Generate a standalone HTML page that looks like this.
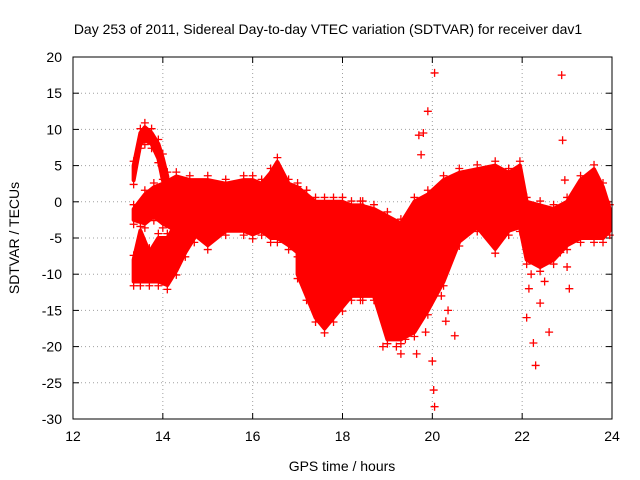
<!DOCTYPE html>
<html><head><meta charset="utf-8"><style>
body{margin:0;background:#fff;}
svg{display:block;font-family:"Liberation Sans",sans-serif;}
</style></head><body>
<svg id="chart" width="640" height="480">
<text x="328" y="34" text-anchor="middle" font-size="14">Day 253 of 2011, Sidereal Day-to-day VTEC variation (SDTVAR) for receiver dav1</text>
<text x="342" y="471" text-anchor="middle" font-size="14">GPS time / hours</text>
<text transform="translate(19,238) rotate(-90)" text-anchor="middle" font-size="14">SDTVAR / TECUs</text>
<g id="grid"></g><g id="ticks"></g><g id="marks"></g>
<rect x="73" y="57" width="539" height="362" fill="none" stroke="#000"/>
</svg>
<script>
const xTicks=[12,14,16,18,20,22,24];
const yTicks=[20,15,10,5,0,-5,-10,-15,-20,-25,-30];
const bandAT=[13.35,13.5,13.6,13.75,13.9,14.0,14.1];
const bandATop=[5,9.5,10.3,9.5,8,6,3.5];
const bandABot=[3,8,8.5,8,6,3,1];
const bandBT=[13.35,13.6,13.8,14.0,14.3,14.6,15.0,15.4,15.8,16.0,16.2,16.4,16.55,16.8,17.0,17.2];
const bandBTop=[-1,1,2,2.5,3.5,3,3,2.5,3,3,2.5,4,5.5,2.5,2,1];
const bandBBot=[-2.5,-3,-2,-3,-4,-4,-6,-4,-4,-4.5,-4,-5,-5,-6,-7,-8];
const bandCT=[13.35,13.5,13.7,13.9,14.1,14.3,14.5,14.7];
const bandCTop=[-8,-4,-7,-5,-5,-3,-3,-3];
const bandCBot=[-11,-11,-11,-11,-11.5,-9.5,-7,-5];
const bandDT=[17.0,17.2,17.4,17.6,17.8,18.0,18.2,18.45];
const bandDTop=[1.5,1,0,0,0,0,-0.5,-0.5];
const bandDBot=[-10,-13,-16,-17.5,-16,-14.5,-13,-13];
const bandET=[18.4,18.7,19.0,19.3,19.6,19.9,20.25,20.6,21.0,21.4,21.7,21.95,22.1,22.4,22.7,23.0,23.3,23.6,23.8,23.95];
const bandETop=[-0.5,-1,-2,-3,0,1,3,4,4.5,5,4,5,0,-0.5,-1,0,3,4.5,2,-1];
const bandEBot=[-13,-13,-19,-19,-18,-15,-11,-5.5,-3.5,-6.5,-4,-3.5,-8,-9,-8,-6,-5,-5,-5,-4];
const outlierT=[20.05,22.88,19.9,20.05,20.03,22.3,22.1,22.6,22.9,19.7,19.8,19.75,22.15,22.25,22.85,19.65,18.9,19.4,20.3,20.5,22.95,23.05,19.2,19.3,20.2,20.35,22.4,22.2,22.5,23.0,19.85,20.0];
const outlierV=[17.8,17.5,12.5,-28.3,-26,-22.6,-16,-18,8.5,9.2,9.5,6.5,-12,-19.5,-7,-21,-20,-19,-16.5,-18.5,3,-12,-20,-21,-13,-15,-14,-10,-11,-9,-18,-22];
const X=t=>73+(t-12)*539/12, Y=v=>57+(20-v)*362/50;
const ns="http://www.w3.org/2000/svg";
function mk(tag,parent,attrs){const e=document.createElementNS(ns,tag);for(const k in attrs)e.setAttribute(k,attrs[k]);parent.appendChild(e);return e;}
const grid=document.getElementById('grid'),ticks=document.getElementById('ticks'),marks=document.getElementById('marks');
xTicks.forEach(t=>{
 const g=mk('line',grid,{x1:X(t),x2:X(t),y1:57,y2:419,stroke:'#a0a0a0','stroke-dasharray':'1,3'});
 
 
 mk('line',ticks,{x1:X(t),x2:X(t),y1:419,y2:413,stroke:'#000'});
 mk('line',ticks,{x1:X(t),x2:X(t),y1:57,y2:63,stroke:'#000'});
 const l=mk('text',ticks,{x:X(t),y:441,'text-anchor':'middle','font-size':14});
 l.textContent=t;
 
 
});
yTicks.forEach(v=>{
 const g=mk('line',grid,{x1:73,x2:612,y1:Y(v),y2:Y(v),stroke:'#a0a0a0','stroke-dasharray':'1,3'});
 
 
 mk('line',ticks,{x1:73,x2:79,y1:Y(v),y2:Y(v),stroke:'#000'});
 mk('line',ticks,{x1:612,x2:606,y1:Y(v),y2:Y(v),stroke:'#000'});
 const l=mk('text',ticks,{x:62,y:Y(v)+5,'text-anchor':'end','font-size':14});
 l.textContent=v;
 
 
});
function cross(t,v,name){
 const m=mk('path',marks,{d:`M${X(t)-4},${Y(v)}h8M${X(t)},${Y(v)-4}v8`,stroke:'#f00','stroke-width':1.3});
 
 
}
const bands=[[bandAT,bandATop,bandABot],[bandBT,bandBTop,bandBBot],[bandCT,bandCTop,bandCBot],[bandDT,bandDTop,bandDBot],[bandET,bandETop,bandEBot]];
bands.forEach(([T,Top,Bot])=>{
 const pts=T.map((t,i)=>X(t)+','+Y(Top[i])).concat(T.map((t,i)=>X(t)+','+Y(Bot[i])).reverse());
 const p=mk('polygon',marks,{points:pts.join(' '),fill:'#f00',stroke:'#f00','stroke-width':4,'stroke-linejoin':'round'});
 
 
 T.forEach((t,i)=>{cross(t,Top[i]+0.6,'sdtvar-point');cross(t,Bot[i]-0.6,'sdtvar-point');});
});
outlierT.forEach((t,i)=>cross(t,outlierV[i],'outlier-point'));
</script>
</body></html>
